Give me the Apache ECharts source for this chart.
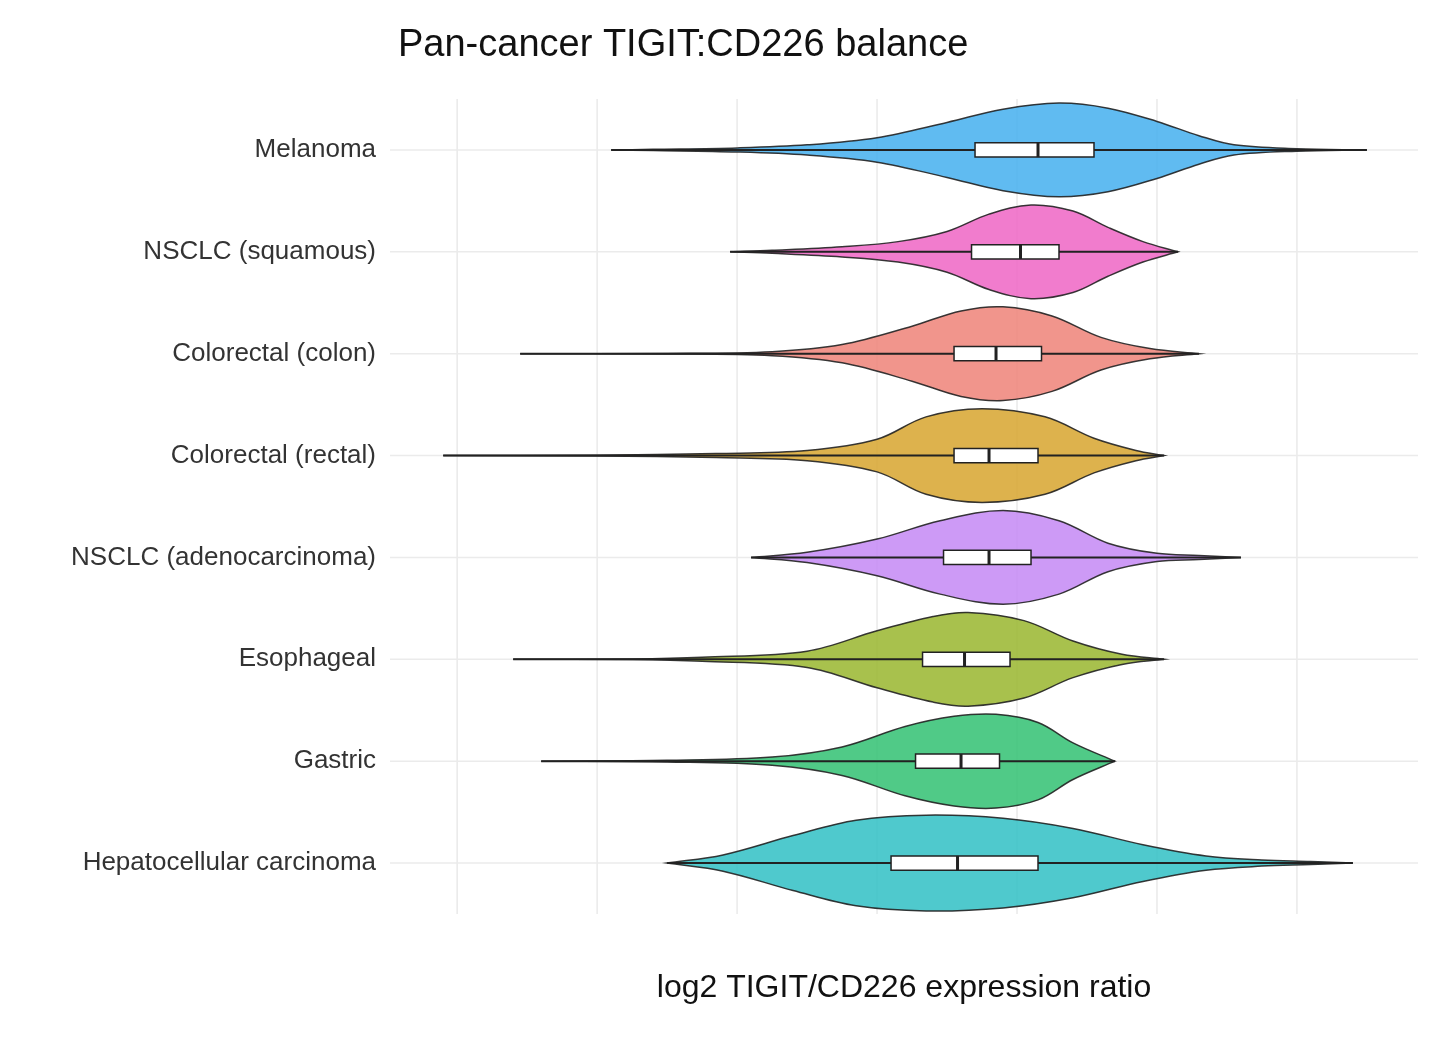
<!DOCTYPE html>
<html><head><meta charset="utf-8">
<script src="https://cdn.jsdelivr.net/npm/echarts@6/dist/echarts.min.js"></script>
<style>html,body{margin:0;padding:0;background:#fff}#c{width:1445px;height:1039px}</style>
</head><body><div id="c"></div>
<script>
const categories = ['Melanoma','NSCLC (squamous)','Colorectal (colon)','Colorectal (rectal)','NSCLC (adenocarcinoma)','Esophageal','Gastric','Hepatocellular carcinoma'];
const colors = ['#4fb4f0','#f06ec8','#f08a80','#d9aa3a','#c88ff5','#9fba3a','#3dc47a','#3cc3c8'];
// density profiles: [x, half-width as fraction of band]
const melanoma = [[-3.8,0],[-3.2,0.006],[-2,0.02],[-1,0.05],[0,0.12],[1,0.27],[1.8,0.4],[2.6,0.46],[3.3,0.41],[4,0.28],[4.6,0.14],[5.1,0.05],[6,0.012],[7.0,0]];
const nsclcSq = [[-2.1,0],[-1.5,0.015],[-0.5,0.05],[0.3,0.1],[1,0.2],[1.6,0.37],[2.2,0.46],[2.8,0.4],[3.3,0.24],[3.8,0.1],[4.3,0]];
const colon = [[-5.1,0],[-3,0.002],[-1.5,0.02],[-0.5,0.09],[0.5,0.27],[1.2,0.42],[1.8,0.46],[2.5,0.37],[3.2,0.16],[3.9,0.05],[4.6,0]];
const rectal = [[-6.2,0],[-4,0.004],[-2.3,0.02],[-1,0.05],[0,0.16],[0.7,0.38],[1.5,0.46],[2.4,0.38],[3.1,0.17],[3.7,0.05],[4.1,0]];
const adeno = [[-1.8,0],[-1,0.05],[0,0.18],[0.9,0.36],[1.8,0.46],[2.6,0.36],[3.3,0.14],[4,0.04],[4.6,0.02],[5.2,0]];
const esophageal = [[-5.2,0],[-3.5,0.003],[-2.5,0.02],[-1,0.08],[0,0.28],[0.8,0.42],[1.3,0.46],[2.1,0.38],[2.8,0.18],[3.5,0.05],[4.1,0]];
const gastric = [[-4.8,0],[-3,0.008],[-1.5,0.04],[-0.5,0.14],[0.4,0.34],[1.1,0.44],[1.7,0.46],[2.3,0.38],[2.8,0.18],[3.4,0]];
const hepato = [[-3.0,0],[-2.2,0.08],[-1.2,0.27],[-0.3,0.42],[0.7,0.47],[1.8,0.44],[2.8,0.34],[3.8,0.18],[4.7,0.07],[5.5,0.03],[6.2,0.015],[6.8,0]];
const profiles = [melanoma,nsclcSq,colon,rectal,adeno,esophageal,gastric,hepato];
const q1 = [1.4,1.35,1.1,1.1,0.95,0.65,0.55,0.2];
const medians = [2.3,2.05,1.7,1.6,1.6,1.25,1.2,1.15];
const q3 = [3.1,2.6,2.35,2.3,2.2,1.9,1.75,2.3];
const gridTicks = [-6,-4,-2,0,2,4,6];

const chart = echarts.init(document.getElementById('c'));
const FONT = 'Liberation Sans, Arial, sans-serif';
chart.setOption({
  animation:false,
  title:{text:'Pan-cancer TIGIT:CD226 balance',left:393,top:22,textStyle:{fontFamily:FONT,fontSize:38,fontWeight:'normal',color:'#111'}},
  grid:{left:390,right:27,top:99,bottom:125},
  xAxis:{type:'value',min:-6.96,max:7.73,interval:1,splitLine:{show:false},axisLine:{show:false},axisTick:{show:false},
    axisLabel:{fontFamily:FONT,fontSize:24,color:'#555',margin:14,showMinLabel:false,showMaxLabel:false,
      formatter:v=>{const r=Math.round(v);return (Math.abs(v-r)<1e-6 && r%4===0)?(r<0?'\u2212'+(-r):String(r)):'';}},
    name:'log2 TIGIT/CD226 expression ratio',nameLocation:'middle',nameGap:58,nameTextStyle:{fontFamily:FONT,fontSize:32,color:'#111'}},
  yAxis:{type:'category',data:categories,inverse:true,axisLine:{show:false},axisTick:{show:false},splitLine:{show:false},
    axisLabel:{fontFamily:FONT,fontSize:26,color:'#333',margin:14}},
  series:[
    {type:'custom',silent:true,z:1,data:gridTicks.map(v=>[v,0]),
     renderItem:(p,api)=>{const cs=p.coordSys;const x=api.coord([api.value(0),0])[0];
       return {type:'line',shape:{x1:x,y1:cs.y,x2:x,y2:cs.y+cs.height},style:{stroke:'#ebebeb',lineWidth:1.6}};}},
    {type:'custom',silent:true,z:1,data:categories.map((c,i)=>[0,i]),
     renderItem:(p,api)=>{const cs=p.coordSys;const y=api.coord([0,api.value(1)])[1];
       return {type:'line',shape:{x1:cs.x,y1:y,x2:cs.x+cs.width,y2:y},style:{stroke:'#ebebeb',lineWidth:1.6}};}},
    {type:'custom',z:2,data:categories.map((c,i)=>[0,i]),
     renderItem:(p,api)=>{
       const i=api.value(1);const band=api.size([0,1])[1];const yc=api.coord([0,i])[1];
       const prof=profiles[i];
       const top=prof.map(d=>[api.coord([d[0],i])[0],yc-d[1]*band]);
       const bot=prof.slice().reverse().map(d=>[api.coord([d[0],i])[0],yc+d[1]*band]);
       const xa=prof[0][0],xb=prof[prof.length-1][0];
       const bx1=api.coord([q1[i],i])[0],bx2=api.coord([q3[i],i])[0],mx=api.coord([medians[i],i])[0];
       const bh=0.07*band;
       return {type:'group',children:[
         {type:'polygon',shape:{points:top.concat(bot),smooth:0.35},style:{fill:colors[i],opacity:0.9,stroke:'#222',lineWidth:1.5}},
         {type:'line',shape:{x1:api.coord([xa,i])[0],y1:yc,x2:api.coord([xb,i])[0],y2:yc},style:{stroke:'#222',lineWidth:2}},
         {type:'rect',shape:{x:bx1,y:yc-bh,width:bx2-bx1,height:2*bh},style:{fill:'#fff',stroke:'#222',lineWidth:1.5}},
         {type:'line',shape:{x1:mx,y1:yc-bh,x2:mx,y2:yc+bh},style:{stroke:'#222',lineWidth:3}}
       ]};
     }}
  ]
});
</script></body></html>
